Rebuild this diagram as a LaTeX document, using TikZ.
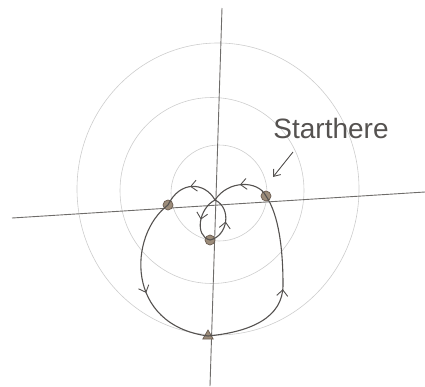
\documentclass[tikz,border=0pt]{standalone}
\usepackage{fontspec}
\setmainfont{Liberation Sans}
\usetikzlibrary{arrows.meta,decorations.markings,shapes.geometric}
\definecolor{penc}{HTML}{555250}
\definecolor{axisc}{HTML}{6E6C6A}
\definecolor{ringc}{HTML}{CDCDCD}
\definecolor{dotfill}{HTML}{9C8C7A}
\definecolor{dotline}{HTML}{6A5C50}
\tikzset{
  ring/.style={draw=ringc,line width=0.6pt},
  axisline/.style={draw=axisc,line width=0.9pt},
  pathline/.style={draw=penc,line width=1.1pt},
  midarrow/.style={postaction={decorate},decoration={markings,
      mark=at position #1 with {\arrow{Straight Barb[length=6pt,width=11pt,line width=0.9pt]}}}},
  dot/.style={circle,inner sep=0pt,minimum size=10pt,fill=dotfill,draw=dotline,line width=0.7pt},
  tri/.style={regular polygon,regular polygon sides=3,inner sep=0pt,minimum size=12pt,fill=dotfill,draw=dotline,line width=0.7pt},
  label text/.style={text=penc,font=\fontsize{28}{28}\selectfont,inner sep=0pt}
}
\begin{document}
\begin{tikzpicture}[x=1pt,y=-1pt]
\useasboundingbox (0,0) rectangle (425,386);
% rings
\draw[ring] (219,193) circle [radius=48];
\draw[ring] (212,190.5) ellipse [x radius=92, y radius=93];
\draw[ring] (218,189) ellipse [x radius=141, y radius=146];
% axes
\coordinate (vt) at (222,8);
\coordinate (vb) at (210,386);
\coordinate (hl) at (12,218);
\coordinate (hr) at (425,192);
\draw[axisline] (vt) -- (vb);
\draw[axisline] (hl) -- (hr);
% points
\coordinate (O) at (215,200);
\node[dot] (R) at (266,196) {};
\node[dot] (L) at (168,205) {};
\node[dot] (C) at (210,240) {};
\node[tri] (B) at (208,336) {};
% path
\draw[pathline,midarrow=0.5] (R.center) .. controls (258,180) and (228,180) .. (O);
\draw[pathline,midarrow=0.5] (O) .. controls (199,208) and (194,236) .. (C.center);
\draw[pathline,midarrow=0.5] (C.center) .. controls (228,236) and (232,208) .. (O);
\draw[pathline,midarrow=0.5] (O) .. controls (205,182) and (180,180) .. (L.center);
\draw[pathline,midarrow=0.55] (L.center) .. controls (128,235) and (125,325) .. (B.center);
\draw[pathline,midarrow=0.5] (B.center) .. controls (250,332) and (283,318) .. (283,285)
   .. controls (283,250) and (279,215) .. (R.center);
% label
\node[label text] (txt) at (331,128) {Starthere};
\coordinate (as) at (293,152);
\coordinate (ae) at (273,177);
\draw[pathline,line width=0.9pt,-{Straight Barb[length=6pt,width=9pt]}] (as) -- (ae);
\end{tikzpicture}
\end{document}
